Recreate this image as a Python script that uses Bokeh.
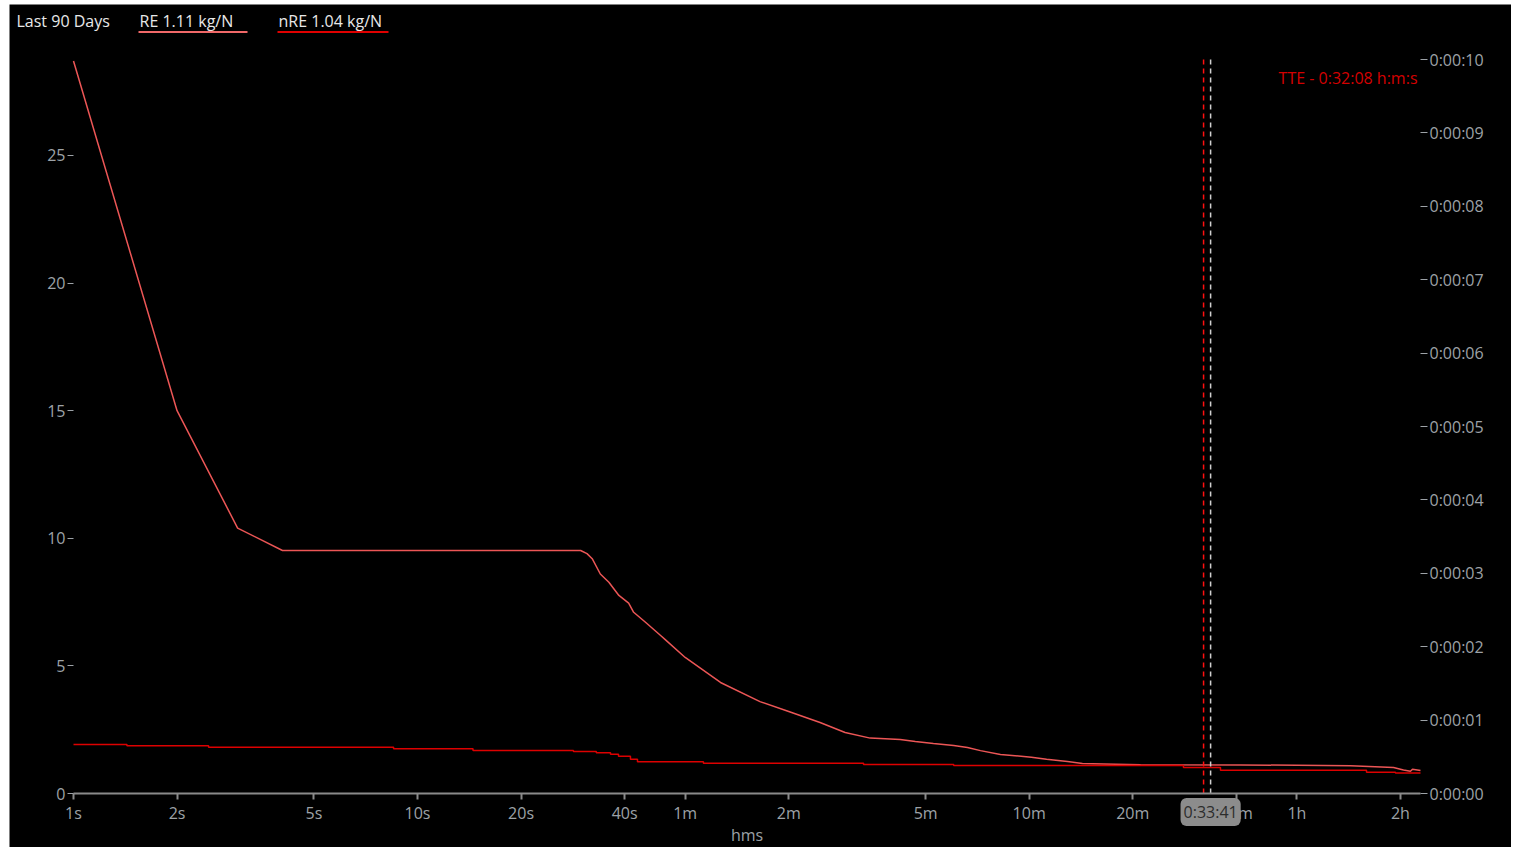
import math
from bokeh.plotting import figure
from bokeh.models import (Range1d, LinearAxis, FixedTicker, CustomJSTickFormatter,
                          Label, BoxAnnotation)
from bokeh.embed import file_html
from bokeh.resources import INLINE

# ---------------- data ----------------
re_seconds = [1, 2, 3.0, 4.05, 29.8, 31.1, 32.2, 34.0, 36.0, 38.5, 41.1, 42.5, 46.0, 50.9, 52.6,
              60, 76, 99, 120, 148, 175, 207, 253,
              280, 316, 362, 397, 433, 495, 609, 674, 775, 857, 987, 1264,
              2468, 5155, 6875, 7350, 7700, 7806, 8236]
re_values = [28.7, 15.0, 10.4, 9.52, 9.52, 9.4, 9.2, 8.6, 8.28, 7.76, 7.46, 7.1, 6.71, 6.19, 6.02,
             5.33, 4.35, 3.6, 3.21, 2.78, 2.39, 2.17, 2.12,
             2.04, 1.96, 1.88, 1.8, 1.68, 1.53, 1.42, 1.34, 1.25, 1.18, 1.16, 1.13,
             1.12, 1.09, 1.02, 0.92, 0.87, 0.95, 0.9]

nre_seconds = [1, 1.43, 2.47, 8.52, 14.5, 28.4, 33.1, 36.4, 38.4, 41.6, 43.6, 67.8, 198, 362,
               1685, 2159, 5738, 6966, 8236]
nre_values = [1.92, 1.87, 1.81, 1.75, 1.68, 1.65, 1.6, 1.54, 1.46, 1.34, 1.24, 1.19, 1.14, 1.10,
              1.02, 0.91, 0.83, 0.80, 0.80]

x_ticks = [1, 2, 5, 10, 20, 40, 60, 120, 300, 600, 1200, 2400, 3600, 7200]
x_tick_labels = ["1s", "2s", "5s", "10s", "20s", "40s", "1m", "2m", "5m", "10m", "20m", "40m", "1h", "2h"]
left_ticks = [0, 5, 10, 15, 20, 25]
right_ticks = [0, 1, 2, 3, 4, 5, 6, 7, 8, 9, 10]
right_tick_labels = ["0:00:00", "0:00:01", "0:00:02", "0:00:03", "0:00:04", "0:00:05",
                     "0:00:06", "0:00:07", "0:00:08", "0:00:09", "0:00:10"]

period_label = "Last 90 Days"
re_label = "RE 1.11 kg/N"
nre_label = "nRE 1.04 kg/N"
tte_seconds = 1928
cursor_seconds = 2021

X_END = 8236       # right end of the x axis (s)
Y_END = 28.76      # top of the left axis
RIGHT_END = 10     # top of the right (time) axis


def hms(s):
    h, rem = divmod(int(s), 3600)
    m, sec = divmod(rem, 60)
    return f"{h}:{m:02d}:{sec:02d}"


# ---------------- geometry (page pixels) ----------------
CV_X0, CV_Y0, CV_W, CV_H = 9, 4, 1502, 843      # canvas placement
AX_L, AX_R, AX_T, AX_B = 73, 1420, 59, 793      # axes box
CV_B = CV_Y0 + CV_H

DEC = (AX_R - AX_L) / math.log10(X_END)
x_lo = 10 ** ((CV_X0 - AX_L) / DEC)
x_hi = 10 ** ((CV_X0 + CV_W - AX_L) / DEC)
PPU = (AX_B - AX_T) / Y_END
y_lo, y_hi = -(CV_B - AX_B) / PPU, (AX_B - CV_Y0) / PPU
RPPU = (AX_B - AX_T) / RIGHT_END
r_lo, r_hi = -(CV_B - AX_B) / RPPU, (AX_B - CV_Y0) / RPPU


def sx(px):  # page x -> frame screen x
    return px - CV_X0


def sy(py):  # page y -> frame screen y (from bottom)
    return CV_B - py


FONT = "Open Sans"
TICK_COLOR = "#9da2a7"
AXIS_COLOR = "#8a8a8a"
RE_COLOR = "#ec5656"
NRE_COLOR = "#dd0000"

LOOKUP = """
    const i = tvals.indexOf(tick);
    return i >= 0 ? tlabels[i] : "";
"""

p = figure(x_axis_type="log", x_range=Range1d(x_lo, x_hi), y_range=Range1d(y_lo, y_hi),
           frame_width=CV_W, frame_height=CV_H, title=None,
           min_border=0, min_border_left=0, min_border_right=0, min_border_top=0, min_border_bottom=0,
           margin=(CV_Y0, 0, 0, CV_X0),
           output_backend="svg", toolbar_location=None,
           background_fill_color="black", border_fill_color="black")
p.outline_line_color = None
p.grid.visible = False

# x axis, pinned at y = 0
xa = p.xaxis[0]
xa.fixed_location = 0
xa.bounds = (1, X_END)
xa.ticker = FixedTicker(ticks=x_ticks)
xa.formatter = CustomJSTickFormatter(args=dict(tvals=x_ticks, tlabels=x_tick_labels), code=LOOKUP)
xa.axis_label = "hms"
xa.axis_label_text_font = FONT
xa.axis_label_text_font_style = "normal"
xa.axis_label_text_font_size = "16px"
xa.axis_label_text_color = TICK_COLOR
xa.axis_label_standoff = -3
xa.axis_line_color = AXIS_COLOR
xa.axis_line_width = 2
xa.major_tick_line_color = AXIS_COLOR
xa.major_tick_line_width = 2
xa.major_tick_out = 6
xa.major_tick_in = 0
xa.minor_tick_line_color = None
xa.major_label_text_font = FONT
xa.major_label_text_font_size = "16px"
xa.major_label_text_color = TICK_COLOR
xa.major_label_standoff = 2

# left axis, pinned at x = 1 s
ya = p.yaxis[0]
ya.fixed_location = 1
ya.bounds = (0, Y_END)
ya.ticker = FixedTicker(ticks=left_ticks)
ya.axis_line_color = None
ya.major_tick_line_color = TICK_COLOR
ya.major_tick_out = 6
ya.major_tick_in = 0
ya.minor_tick_line_color = None
ya.major_label_text_font = FONT
ya.major_label_text_font_size = "16px"
ya.major_label_text_color = TICK_COLOR
ya.major_label_standoff = 2

# right axis (time), pinned at the right end of the data
p.extra_y_ranges = {"time": Range1d(r_lo, r_hi)}
ra = LinearAxis(y_range_name="time", ticker=FixedTicker(ticks=right_ticks))
ra.fixed_location = X_END
ra.bounds = (0, RIGHT_END)
ra.formatter = CustomJSTickFormatter(args=dict(tvals=right_ticks, tlabels=right_tick_labels), code=LOOKUP)
ra.axis_line_color = None
ra.major_tick_line_color = TICK_COLOR
ra.major_tick_out = 7
ra.major_tick_in = 0
ra.minor_tick_line_color = None
ra.major_label_text_font = FONT
ra.major_label_text_font_size = "16px"
ra.major_label_text_color = TICK_COLOR
ra.major_label_standoff = 2
p.add_layout(ra, "right")

# series
p.line(re_seconds, re_values, line_color=RE_COLOR, line_width=1.5)
p.step(nre_seconds, nre_values, mode="after", line_color=NRE_COLOR, line_width=1.5)

# vertical markers (TTE and cursor)
p.segment(x0=[tte_seconds], y0=[0], x1=[tte_seconds], y1=[Y_END],
          line_color="#ff1010", line_width=1.5, line_dash="5 4")
p.segment(x0=[cursor_seconds], y0=[0], x1=[cursor_seconds], y1=[Y_END],
          line_color="#d0d0d0", line_width=1.5, line_dash="5 4")

# TTE text
p.add_layout(Label(x=sx(1417), y=sy(77), x_units="screen", y_units="screen",
                   text=f"TTE - {hms(tte_seconds)} h:m:s",
                   text_align="right", text_baseline="middle", text_color="#d40000",
                   text_font=FONT, text_font_size="16px"))

# header
for px, txt in [(16, period_label), (139, re_label), (278, nre_label)]:
    p.add_layout(Label(x=sx(px), y=sy(20), x_units="screen", y_units="screen",
                       text=txt, text_align="left", text_baseline="middle",
                       text_color="#e8e8e8", text_font=FONT, text_font_size="16px"))
for x0, x1, col in [(138, 247, "#f06868"), (277, 388, "#e00000")]:
    p.add_layout(BoxAnnotation(left=sx(x0), right=sx(x1), bottom=sy(32.5), top=sy(30.5),
                               left_units="screen", right_units="screen",
                               bottom_units="screen", top_units="screen",
                               fill_color=col, fill_alpha=1.0, line_color=None))

# cursor bubble on the x axis
p.add_layout(Label(x=cursor_seconds, y=sy(811.5), y_units="screen", text=hms(cursor_seconds),
                   text_align="center", text_baseline="middle", text_color="#2c2c2c",
                   text_font=FONT, text_font_size="16px",
                   background_fill_color="#8c8c8c", background_fill_alpha=1.0,
                   border_radius=6, padding=3, level="overlay"))

open("out.html", "w").write(file_html(p, INLINE))
